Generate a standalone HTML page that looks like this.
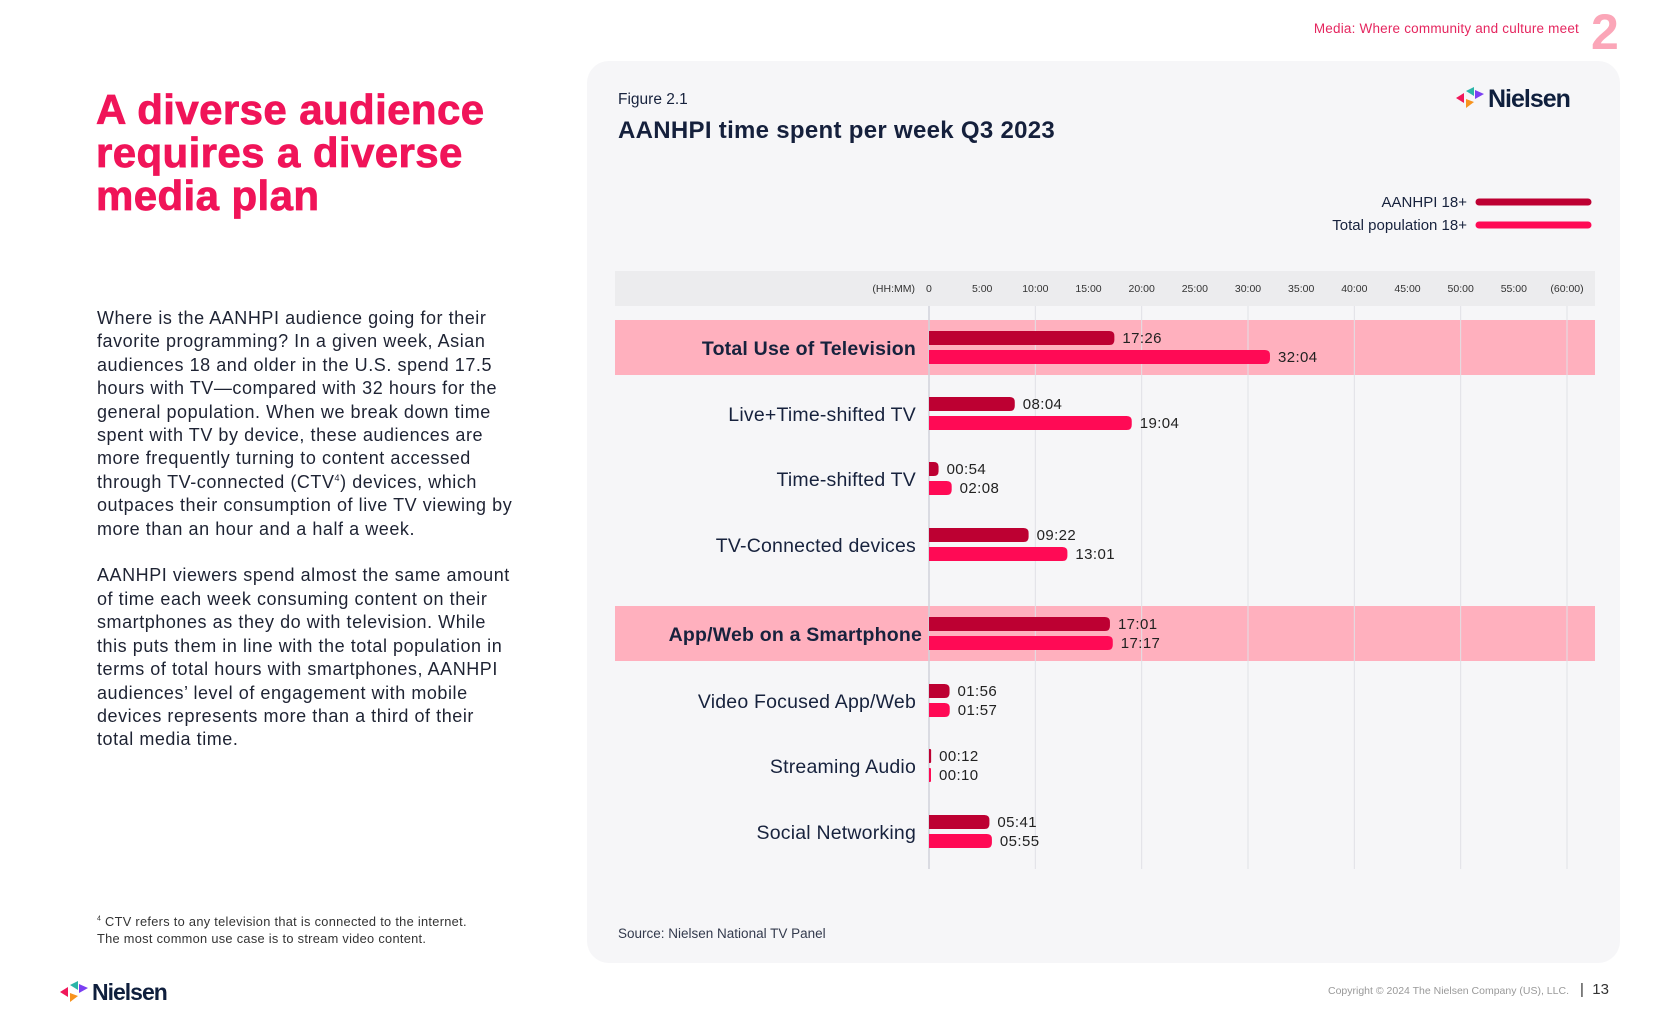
<!DOCTYPE html>
<html><head><meta charset="utf-8">
<style>
html,body{margin:0;padding:0;background:#fff;}
body{width:1680px;height:1020px;position:relative;overflow:hidden;font-family:"Liberation Sans",Arial,sans-serif;color:#17223d;}
.abs{position:absolute;white-space:nowrap;}
sup{line-height:0;vertical-align:super;}
#heading{left:96px;top:88px;font-size:42px;font-weight:900;color:#f01459;line-height:43px;letter-spacing:0.4px;-webkit-text-stroke:0.8px #f01459;}
#body{left:97px;top:307px;font-size:18px;line-height:23.4px;color:#1e2333;letter-spacing:0.55px;}
#card{left:587px;top:61px;width:1033px;height:902px;background:#f6f6f8;border-radius:22px;}
</style></head>
<body>
<div class="abs" style="right:101px;top:21px;font-size:13.5px;color:#e5265f;letter-spacing:0.2px;">Media: Where community and culture meet</div>
<div class="abs" style="left:1591px;top:3px;font-size:50px;font-weight:bold;color:#fba6b8;">2</div>

<div class="abs" id="heading">A diverse audience<br>requires a diverse<br>media plan</div>
<div class="abs" id="body">Where is the AANHPI audience going for their<br>favorite programming? In a given week, Asian<br>audiences 18 and older in the U.S. spend 17.5<br>hours with TV—compared with 32 hours for the<br>general population. When we break down time<br>spent with TV by device, these audiences are<br>more frequently turning to content accessed<br>through TV-connected (CTV<sup style="font-size:9px">4</sup>) devices, which<br>outpaces their consumption of live TV viewing by<br>more than an hour and a half a week.<br><br>AANHPI viewers spend almost the same amount<br>of time each week consuming content on their<br>smartphones as they do with television. While<br>this puts them in line with the total population in<br>terms of total hours with smartphones, AANHPI<br>audiences’ level of engagement with mobile<br>devices represents more than a third of their<br>total media time.</div>
<div class="abs" style="left:97px;top:913px;font-size:12.8px;line-height:17px;color:#333;letter-spacing:0.3px;"><sup style="font-size:7px">4</sup> CTV refers to any television that is connected to the internet.<br>The most common use case is to stream video content.</div>

<div class="abs" id="card"></div>
<div class="abs" style="left:618px;top:91px;font-size:15.5px;color:#17223d;">Figure 2.1</div>
<div class="abs" style="left:618px;top:117px;font-size:24px;font-weight:bold;color:#15203c;letter-spacing:0.3px;">AANHPI time spent per week Q3 2023</div>
<div class="abs" style="left:618px;top:926px;font-size:13.5px;color:#333a4d;">Source: Nielsen National TV Panel</div>

<svg class="abs" style="left:1456px;top:82px" width="130" height="32">
<polygon points="0,16 8,11 8,21" fill="#f0185a"/><polygon points="10,9 18,5 18,14" fill="#2bb5a8"/><polygon points="10,17 18,20 10,26" fill="#f7931e"/><polygon points="19,8 28,12 19,17" fill="#7b3ff2"/>
<text x="32" y="25" font-size="25" font-weight="bold" fill="#0f1f3d" font-family="Liberation Sans, sans-serif" letter-spacing="-1">Nielsen</text></svg>
<svg class="abs" style="left:60px;top:976px" width="130" height="32">
<polygon points="0,16 8,11 8,21" fill="#f0185a"/><polygon points="10,9 18,5 18,14" fill="#2bb5a8"/><polygon points="10,17 18,20 10,26" fill="#f7931e"/><polygon points="19,8 28,12 19,17" fill="#7b3ff2"/>
<text x="32" y="24" font-size="23" font-weight="bold" fill="#0f1f3d" font-family="Liberation Sans, sans-serif" letter-spacing="-1">Nielsen</text></svg>
<div class="abs" style="right:111px;top:985px;font-size:10.5px;color:#999;">Copyright © 2024 The Nielsen Company (US), LLC.</div>
<div class="abs" style="left:1580px;top:981px;font-size:15px;color:#333;">|&nbsp; 13</div>

<svg id="chart" class="abs" style="left:0;top:0" width="1680" height="1020"></svg>

<script>
const categories = ["Total Use of Television","Live+Time-shifted TV","Time-shifted TV","TV-Connected devices","App/Web on a Smartphone","Video Focused App/Web","Streaming Audio","Social Networking"];
const highlighted = [true,false,false,false,true,false,false,false];
const aanhpiValues = ["17:26","08:04","00:54","09:22","17:01","01:56","00:12","05:41"];
const totalValues = ["32:04","19:04","02:08","13:01","17:17","01:57","00:10","05:55"];
const tickLabels = ["0","5:00","10:00","15:00","20:00","25:00","30:00","35:00","40:00","45:00","50:00","55:00","(60:00)"];
const tickHours = [0,5,10,15,20,25,30,35,40,45,50,55,60];
const gridHours = [0,10,20,30,40,50,60];
const seriesNames = ["AANHPI 18+","Total population 18+"];

const NS="http://www.w3.org/2000/svg";
const svg=document.getElementById('chart');
const X0=929, X1=1567, HMAX=60;
const xScale=h=>X0+(h/HMAX)*(X1-X0);
const toHours=s=>{const p=s.split(':');return +p[0]+(+p[1])/60;};
const rowTop=348, rowStep=[0,66,131,197,286,353,418,484];
const yRow=i=>rowTop+rowStep[i];
const C1="#bd0032", C2="#ff0a55";
function mk(tag,attrs,parent){const e=document.createElementNS(NS,tag);for(const k in attrs)e.setAttribute(k,attrs[k]);(parent||svg).appendChild(e);return e;}

let band=mk('rect',{x:615,y:271,width:980,height:35,fill:"#ececee"});


let unit=mk('text',{x:915,y:292,'font-size':10.5,'text-anchor':'end',fill:'#333','font-family':'Liberation Sans, sans-serif'});
unit.textContent='(HH:MM)';


tickLabels.forEach((t,i)=>{
  const e=mk('text',{x:xScale(tickHours[i]),y:292,'font-size':10.5,'text-anchor':i==0?'start':'middle',fill:'#333','font-family':'Liberation Sans, sans-serif'});
  if(i==0)e.setAttribute('x',xScale(0)-3);
  e.textContent=t;
  
  
});
categories.forEach((c,i)=>{
  if(!highlighted[i])return;
  const r=mk('rect',{x:615,y:yRow(i)-28,width:980,height:55,fill:'#ffb0be'});
  
  
});
gridHours.forEach(h=>{
  const l=mk('line',{x1:xScale(h),x2:xScale(h),y1:306,y2:869,stroke:h==0?'#d0d2da':'#e0e1e6','stroke-width':h==0?1.5:1});
  
  
});
function bar(x0,x1,y,h,color){
  const w=Math.max(x1-x0,2), r=Math.min(h/2,w/2,5);
  return mk('path',{d:`M${x0},${y}H${x0+w-r}Q${x0+w},${y} ${x0+w},${y+r}V${y+h-r}Q${x0+w},${y+h} ${x0+w-r},${y+h}H${x0}Z`,fill:color});
}
categories.forEach((c,i)=>{
  const cy=yRow(i);
  const lab=mk('text',{x:highlighted[i]&&i==4?922:916,y:cy+7,'font-size':19.5,'text-anchor':'end',fill:'#17223d','font-weight':highlighted[i]?'bold':'normal','font-family':'Liberation Sans, sans-serif','letter-spacing':0.2});
  lab.textContent=c;
  
  
  [[aanhpiValues[i],C1,cy-17],[totalValues[i],C2,cy+2]].forEach(([v,col,y],k)=>{
    const xe=xScale(toHours(v));
    const b=bar(X0,xe,y,14,col);
    
    
    const t=mk('text',{x:Math.max(xe,X0+2)+8,y:y+12,'font-size':15,fill:'#222','font-family':'Liberation Sans, sans-serif','letter-spacing':0.4});
    t.textContent=v;
    
    
  });
});
[[C1,202],[C2,225]].forEach(([col,y],k)=>{
  const t=mk('text',{x:1467,y:y+5,'font-size':15,'text-anchor':'end',fill:'#17223d','font-family':'Liberation Sans, sans-serif'});
  t.textContent=seriesNames[k];
  
  
  const l=mk('line',{x1:1479,x2:1588,y1:y,y2:y,stroke:col,'stroke-width':7,'stroke-linecap':'round'});
  
  
});
</script>
</body></html>
